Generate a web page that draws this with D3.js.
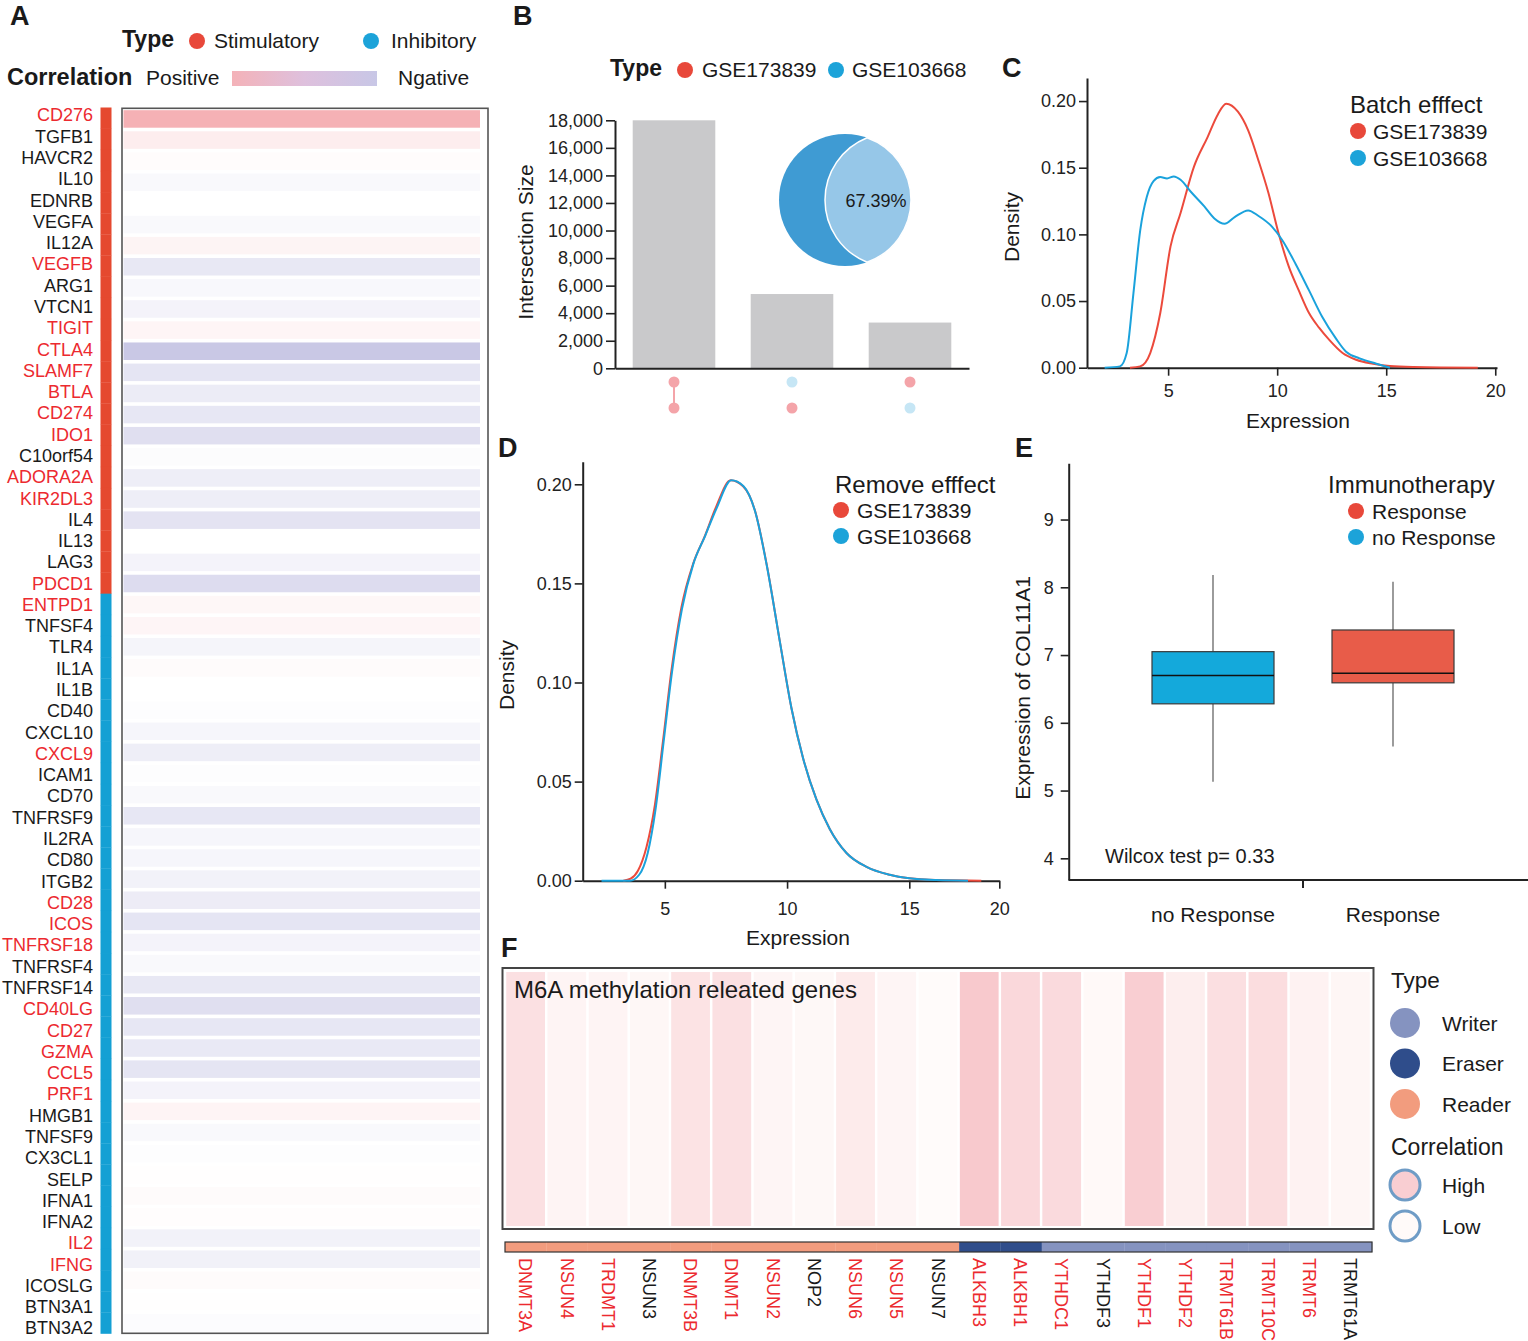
<!DOCTYPE html>
<html>
<head>
<meta charset="utf-8">
<script src="https://cdn.jsdelivr.net/npm/d3@7/dist/d3.min.js"></script>
<style>
  html,body{margin:0;padding:0;background:#fff;}
  svg{display:block;}
  text{font-family:"Liberation Sans",Arial,Helvetica,sans-serif;}
</style>
</head>
<body>
<svg id="fig" width="1528" height="1341"></svg>
<script>
// ================= DATA =================
// Panel A: immune checkpoint genes
const immuneGenes = ["CD276","TGFB1","HAVCR2","IL10","EDNRB","VEGFA","IL12A","VEGFB","ARG1","VTCN1","TIGIT","CTLA4","SLAMF7","BTLA","CD274","IDO1","C10orf54","ADORA2A","KIR2DL3","IL4","IL13","LAG3","PDCD1","ENTPD1","TNFSF4","TLR4","IL1A","IL1B","CD40","CXCL10","CXCL9","ICAM1","CD70","TNFRSF9","IL2RA","CD80","ITGB2","CD28","ICOS","TNFRSF18","TNFRSF4","TNFRSF14","CD40LG","CD27","GZMA","CCL5","PRF1","HMGB1","TNFSF9","CX3CL1","SELP","IFNA1","IFNA2","IL2","IFNG","ICOSLG","BTN3A1","BTN3A2"];
const immuneType = ["Stimulatory","Stimulatory","Stimulatory","Stimulatory","Stimulatory","Stimulatory","Stimulatory","Stimulatory","Stimulatory","Stimulatory","Stimulatory","Stimulatory","Stimulatory","Stimulatory","Stimulatory","Stimulatory","Stimulatory","Stimulatory","Stimulatory","Stimulatory","Stimulatory","Stimulatory","Stimulatory",
  "Inhibitory","Inhibitory","Inhibitory","Inhibitory","Inhibitory","Inhibitory","Inhibitory","Inhibitory","Inhibitory","Inhibitory","Inhibitory","Inhibitory","Inhibitory","Inhibitory","Inhibitory","Inhibitory","Inhibitory","Inhibitory","Inhibitory","Inhibitory","Inhibitory","Inhibitory","Inhibitory","Inhibitory","Inhibitory","Inhibitory","Inhibitory","Inhibitory","Inhibitory","Inhibitory","Inhibitory","Inhibitory","Inhibitory","Inhibitory","Inhibitory"];
const immuneHighlighted = ["CD276","VEGFB","TIGIT","CTLA4","SLAMF7","BTLA","CD274","IDO1","ADORA2A","KIR2DL3","PDCD1","ENTPD1","CXCL9","CD28","ICOS","TNFRSF18","CD40LG","CD27","GZMA","CCL5","PRF1","IL2","IFNG"];
const immuneCorr = [0.95,0.22,0.04,-0.1,0.0,-0.1,0.14,-0.4,-0.12,-0.2,0.12,-0.95,-0.45,-0.33,-0.42,-0.55,-0.06,-0.3,-0.3,-0.48,0.0,-0.2,-0.6,
  0.1,0.12,-0.18,0.05,0.0,-0.03,-0.15,-0.3,-0.03,-0.1,-0.42,-0.15,-0.15,-0.22,-0.32,-0.45,-0.2,-0.1,-0.4,-0.55,-0.42,-0.38,-0.45,-0.2,0.13,-0.1,-0.04,0.01,0.05,0.02,-0.22,-0.25,0.05,0.01,-0.05];

// Panel B: intersection sizes (UpSet)
const upsetSizes = [18000, 5390, 3320];
const upsetSetNames = ["GSE173839","GSE103668"];
const upsetMembership = [[1,1],[0,1],[1,0]];
const upsetTicks = [0,2000,4000,6000,8000,10000,12000,14000,16000,18000];
const overlapLabel = "67.39%";

// Panel C: density before batch removal
const cRedX  = [3.25,3.72,4.18,4.64,5.11,5.57,6.19,6.81,7.28,7.66,8.2,8.67,9.13,9.6,10.06,10.53,10.99,11.46,11.92,12.38,13.0,13.62,14.4,15.17,16.25,19.2];
const cRedY  = [0,0.001,0.011,0.041,0.091,0.116,0.151,0.173,0.19,0.198,0.192,0.178,0.156,0.131,0.101,0.076,0.058,0.041,0.03,0.021,0.011,0.006,0.003,0.0012,0.0005,0];
const cBlueX = [2.09,2.79,3.1,3.41,3.72,4.02,4.33,4.64,4.95,5.26,5.57,6.04,6.66,7.12,7.59,8.05,8.67,9.13,9.75,10.22,10.84,11.46,12.07,12.69,13.16,13.78,14.55,15.17];
const cBlueY = [0,0.001,0.011,0.056,0.103,0.128,0.14,0.143,0.142,0.1435,0.141,0.132,0.121,0.112,0.108,0.113,0.118,0.114,0.106,0.096,0.078,0.058,0.038,0.022,0.012,0.007,0.003,0];
const densityTicksY = [0,0.05,0.1,0.15,0.2];
const expressionTicks = [5,10,15,20];

// Panel D: density after batch removal
const dRedX  = [3.3,3.6,3.9,4.25,4.59,4.93,5.27,5.68,6.16,6.64,7.11,7.69,8.2,8.68,9.16,9.7,10.18,10.65,11.2,11.75,12.43,13.25,14.2,15.0,16.5,19.0];
const dRedY  = [0,0.001,0.005,0.017,0.038,0.071,0.106,0.138,0.16,0.174,0.189,0.202,0.199,0.187,0.16,0.121,0.087,0.062,0.041,0.026,0.014,0.007,0.003,0.0012,0.0003,0];
const dBlueX = [2.41,3.57,3.95,4.3,4.62,4.95,5.29,5.7,6.17,6.65,7.12,7.72,8.22,8.7,9.17,9.7,10.18,10.65,11.2,11.75,12.43,13.25,14.2,15.0,16.5,18.26];
const dBlueY = [0,0,0.003,0.014,0.036,0.07,0.105,0.137,0.16,0.174,0.188,0.202,0.199,0.186,0.159,0.121,0.087,0.062,0.041,0.026,0.014,0.007,0.003,0.0012,0.0003,0];

// Panel E: boxplot of COL11A1
const boxGroups = ["no Response","Response"];
const boxMin    = [5.13, 5.65];
const boxQ1     = [6.28, 6.59];
const boxMedian = [6.70, 6.73];
const boxQ3     = [7.05, 7.37];
const boxMax    = [8.18, 8.08];
const boxTicks  = [4,5,6,7,8,9];
const wilcoxText = "Wilcox test p= 0.33";

// Panel F: m6A genes
const m6aGenes = ["DNMT3A","NSUN4","TRDMT1","NSUN3","DNMT3B","DNMT1","NSUN2","NOP2","NSUN6","NSUN5","NSUN7","ALKBH3","ALKBH1","YTHDC1","YTHDF3","YTHDF1","YTHDF2","TRMT61B","TRMT10C","TRMT6","TRMT61A"];
const m6aType  = ["Reader","Reader","Reader","Reader","Reader","Reader","Reader","Reader","Reader","Reader","Reader","Eraser","Eraser","Writer","Writer","Writer","Writer","Writer","Writer","Writer","Writer"];
const m6aCorr  = [0.27,0.08,0.08,0.05,0.25,0.27,0.07,0.04,0.17,0.07,0.01,0.5,0.35,0.33,0.03,0.45,0.14,0.28,0.3,0.1,0.06];
const m6aHighlighted = ["DNMT3A","NSUN4","TRDMT1","DNMT3B","DNMT1","NSUN2","NSUN6","NSUN5","ALKBH3","ALKBH1","YTHDC1","YTHDF1","YTHDF2","TRMT61B","TRMT10C","TRMT6"];
const m6aTypeLegend = ["Writer","Eraser","Reader"];

// ================= HELPERS =================
const svg = d3.select("#fig");
const FONT = '"Liberation Sans",Arial,Helvetica,sans-serif';
const INK = "#1a1a1a";
const RED = "#e8483a", BLUE = "#1ca3d9", LABRED = "#ec2a2f";

function T(parent, x, y, str, size, opt = {}) {
  const t = parent.append("text").attr("x", x).attr("y", y).text(str)
    .attr("font-size", size).attr("fill", opt.fill || INK);
  if (opt.bold) t.attr("font-weight", "bold");
  if (opt.anchor) t.attr("text-anchor", opt.anchor);
  return t;
}
function TR(parent, x, y, str, size) { // rotated -90, centered
  return parent.append("text").attr("transform", `translate(${x},${y}) rotate(-90)`)
    .attr("text-anchor", "middle").attr("font-size", size).attr("fill", INK).text(str);
}
function styleAxis(g, fs) {
  g.attr("font-family", FONT).attr("font-size", fs);
  g.select(".domain").attr("stroke", "#222").attr("stroke-width", 2);
  g.selectAll(".tick line").attr("stroke", "#222").attr("stroke-width", 1.6);
  g.selectAll(".tick text").attr("fill", "#222");
}
function dot(parent, x, y, r, c) { parent.append("circle").attr("cx", x).attr("cy", y).attr("r", r).attr("fill", c); }

// ================= PANEL A =================
const gA = svg.append("g");
T(gA, 10, 25, "A", 27, {bold: true});
T(gA, 122, 47, "Type", 23, {bold: true});
dot(gA, 197, 41, 8, RED); T(gA, 214, 48, "Stimulatory", 21);
dot(gA, 371, 41, 8, BLUE); T(gA, 391, 48, "Inhibitory", 21);
T(gA, 7, 85, "Correlation", 23.5, {bold: true});
T(gA, 146, 85, "Positive", 21);
const defs = svg.append("defs");
const grad = defs.append("linearGradient").attr("id", "corrGrad");
grad.append("stop").attr("offset", "0%").attr("stop-color", "#f4b2b8");
grad.append("stop").attr("offset", "50%").attr("stop-color", "#dec0dd");
grad.append("stop").attr("offset", "100%").attr("stop-color", "#c8c7e6");
gA.append("rect").attr("x", 232).attr("y", 71).attr("width", 145).attr("height", 15).attr("fill", "url(#corrGrad)");
T(gA, 398, 85, "Ngative", 21);

const corrColor = d3.scaleLinear().domain([-1, 0, 1]).range(["#c6c5e4", "#ffffff", "#f4adb1"]);
const typeColorA = d3.scaleOrdinal().domain(["Stimulatory", "Inhibitory"]).range(["#e5492f", "#14a0d4"]);
const yA = d3.scaleBand().domain(immuneGenes).range([108.5, 1333]).paddingInner(0.17).paddingOuter(0.08);
const yALab = d3.scalePoint().domain(immuneGenes).range([115, 1328]);
const yAType = d3.scaleBand().domain(immuneGenes).range([107.5, 1333.5]);

gA.append("g").selectAll("rect").data(immuneGenes).join("rect")
  .attr("x", 100.5).attr("width", 11).attr("y", d => yAType(d)).attr("height", yAType.bandwidth() + 0.3)
  .attr("fill", (d, i) => typeColorA(immuneType[i]));
gA.append("g").selectAll("rect").data(immuneGenes).join("rect")
  .attr("x", 123.5).attr("width", 356.5).attr("y", d => yA(d)).attr("height", yA.bandwidth())
  .attr("fill", (d, i) => corrColor(immuneCorr[i]));
gA.append("rect").attr("x", 122).attr("y", 108.3).attr("width", 366).attr("height", 1225)
  .attr("fill", "none").attr("stroke", "#555").attr("stroke-width", 1.6);
gA.append("g").selectAll("text").data(immuneGenes).join("text")
  .attr("x", 93).attr("y", d => yALab(d)).attr("dy", "0.36em").attr("text-anchor", "end")
  .attr("font-size", 18).attr("fill", d => immuneHighlighted.includes(d) ? LABRED : INK).text(d => d);

// ================= PANEL B =================
const gB = svg.append("g");
T(gB, 513, 25, "B", 27, {bold: true});
T(gB, 610, 76, "Type", 23, {bold: true});
dot(gB, 685, 70, 8, RED); T(gB, 702, 77, upsetSetNames[0], 21);
dot(gB, 836, 70, 8, BLUE); T(gB, 852, 77, upsetSetNames[1], 21);

const xB = d3.scaleBand().domain(d3.range(upsetSizes.length)).range([615, 969]).paddingInner(0.3).paddingOuter(0.15);
const yB = d3.scaleLinear().domain([0, 18000]).range([368.3, 120.3]);
gB.append("g").selectAll("rect").data(upsetSizes).join("rect")
  .attr("x", (d, i) => xB(i)).attr("width", xB.bandwidth())
  .attr("y", d => yB(d)).attr("height", d => yB(0) - yB(d)).attr("fill", "#c9c9cb");
const axB = gB.append("g").attr("transform", "translate(615,0)")
  .call(d3.axisLeft(yB).tickValues(upsetTicks).tickFormat(d3.format(",")).tickSize(9).tickSizeOuter(0).tickPadding(3));
styleAxis(axB, 18);
const axBx = gB.append("g").attr("transform", `translate(0,${yB(0)})`)
  .call(d3.axisBottom(xB).tickSize(0).tickFormat(""));
styleAxis(axBx, 18);
TR(gB, 533, 242, "Intersection Size", 21);
// membership dots
const ySets = d3.scalePoint().domain(upsetSetNames).range([382, 408]);
upsetMembership.forEach((m, i) => {
  const cx = xB(i) + xB.bandwidth() / 2;
  const on = upsetSetNames.filter((s, k) => m[k]);
  if (on.length > 1) gB.append("line").attr("x1", cx).attr("x2", cx)
    .attr("y1", ySets(on[0])).attr("y2", ySets(on[on.length - 1])).attr("stroke", "#f4a4a9").attr("stroke-width", 2);
  upsetSetNames.forEach((s, k) => dot(gB, cx, ySets(s), 5.5, m[k] ? "#f4a4a9" : "#c6e6f5"));
});
// overlap crescent
(function () {
  const cx = 845, cy = 200, r1 = 66, r2 = 67, d = 47;
  gB.append("circle").attr("cx", cx).attr("cy", cy).attr("r", r1).attr("fill", "#3f9bd3");
  const xi = (d * d + r1 * r1 - r2 * r2) / (2 * d);
  const yi = Math.sqrt(r1 * r1 - xi * xi);
  const p = d3.path();
  p.moveTo(cx + xi, cy - yi);
  p.arc(cx, cy, r1, Math.atan2(-yi, xi), Math.atan2(yi, xi), false);
  p.arc(cx + d, cy, r2, Math.atan2(yi, xi - d), Math.atan2(-yi, xi - d), false);
  p.closePath();
  gB.append("path").attr("d", p.toString()).attr("fill", "#96c7e8").attr("stroke", "#fff").attr("stroke-width", 1.5);
  T(gB, 876, 207, overlapLabel, 18, {anchor: "middle"});
})();

// ================= PANEL C =================
const gC = svg.append("g");
T(gC, 1002, 77, "C", 27, {bold: true});
const xC = d3.scaleLinear().domain([1.28, 20.08]).range([1087, 1497]);
const yC = d3.scaleLinear().domain([0, 0.2173]).range([367.7, 78]);
const axCx = gC.append("g").attr("transform", `translate(0,${yC(0)})`)
  .call(d3.axisBottom(xC).tickValues(expressionTicks).tickSize(8).tickSizeOuter(0).tickPadding(9));
styleAxis(axCx, 18);
const axCy = gC.append("g").attr("transform", `translate(${xC.range()[0]},0)`)
  .call(d3.axisLeft(yC).tickValues(densityTicksY).tickFormat(d3.format(".2f")).tickSize(8).tickSizeOuter(0).tickPadding(3));
styleAxis(axCy, 18);
const lineC = d3.line().x(d => xC(d[0])).y(d => yC(d[1])).curve(d3.curveMonotoneX);
gC.append("path").attr("d", lineC(d3.zip(cRedX, cRedY))).attr("fill", "none").attr("stroke", "#ec4a3c").attr("stroke-width", 2);
gC.append("path").attr("d", lineC(d3.zip(cBlueX, cBlueY))).attr("fill", "none").attr("stroke", "#1aa2dc").attr("stroke-width", 2);
T(gC, 1298, 428, "Expression", 21, {anchor: "middle"});
TR(gC, 1019, 227, "Density", 21);
T(gC, 1350, 113, "Batch efffect", 24);
dot(gC, 1358, 131, 8, RED); T(gC, 1373, 138.5, upsetSetNames[0], 21);
dot(gC, 1358, 158, 8, BLUE); T(gC, 1373, 165.5, upsetSetNames[1], 21);

// ================= PANEL D =================
const gD = svg.append("g");
T(gD, 498, 457, "D", 27, {bold: true});
const xD = d3.scaleLinear().domain([1.64, 15, 20]).range([582.7, 909.3, 999.3]);
const yD = d3.scaleLinear().domain([0, 0.2114]).range([880.7, 461.7]);
const axDx = gD.append("g").attr("transform", `translate(0,${yD(0)})`)
  .call(d3.axisBottom(xD).tickValues(expressionTicks).tickSize(8).tickSizeOuter(0).tickPadding(14));
styleAxis(axDx, 18);
const axDy = gD.append("g").attr("transform", `translate(${xD(1.64)},0)`)
  .call(d3.axisLeft(yD).tickValues(densityTicksY).tickFormat(d3.format(".2f")).tickSize(8).tickSizeOuter(0).tickPadding(3));
styleAxis(axDy, 18);
const lineD = d3.line().x(d => xD(d[0])).y(d => yD(d[1])).curve(d3.curveMonotoneX);
gD.append("path").attr("d", lineD(d3.zip(dRedX, dRedY))).attr("fill", "none").attr("stroke", "#ec4a3c").attr("stroke-width", 2);
gD.append("path").attr("d", lineD(d3.zip(dBlueX, dBlueY))).attr("fill", "none").attr("stroke", "#1aa2dc").attr("stroke-width", 2);
T(gD, 798, 945, "Expression", 21, {anchor: "middle"});
TR(gD, 514, 675, "Density", 21);
T(gD, 835, 493, "Remove efffect", 24);
dot(gD, 841, 510, 8, RED); T(gD, 857, 517.5, upsetSetNames[0], 21);
dot(gD, 841, 536, 8, BLUE); T(gD, 857, 543.5, upsetSetNames[1], 21);

// ================= PANEL E =================
const gE = svg.append("g");
T(gE, 1015, 457, "E", 27, {bold: true});
const yE = d3.scaleLinear().domain([3.68, 9.83]).range([880, 463.3]);
const xE = d3.scalePoint().domain(boxGroups).range([1213, 1393]);
const boxFill = d3.scaleOrdinal().domain(boxGroups).range(["#14a9db", "#e85c49"]);
const axEy = gE.append("g").attr("transform", "translate(1068.7,0)")
  .call(d3.axisLeft(yE).tickValues(boxTicks).tickFormat(d3.format("d")).tickSize(8).tickSizeOuter(0).tickPadding(7));
styleAxis(axEy, 18);
gE.append("line").attr("x1", 1068.7).attr("x2", 1528).attr("y1", 880).attr("y2", 880).attr("stroke", "#222").attr("stroke-width", 2);
const midE = (xE(boxGroups[0]) + xE(boxGroups[1])) / 2;
gE.append("line").attr("x1", midE).attr("x2", midE).attr("y1", 880).attr("y2", 888).attr("stroke", "#222").attr("stroke-width", 2);
boxGroups.forEach((g, i) => {
  const cx = xE(g), w = 122;
  gE.append("line").attr("x1", cx).attr("x2", cx).attr("y1", yE(boxMax[i])).attr("y2", yE(boxQ3[i])).attr("stroke", "#666").attr("stroke-width", 1.3);
  gE.append("line").attr("x1", cx).attr("x2", cx).attr("y1", yE(boxQ1[i])).attr("y2", yE(boxMin[i])).attr("stroke", "#666").attr("stroke-width", 1.3);
  gE.append("rect").attr("x", cx - w / 2).attr("width", w).attr("y", yE(boxQ3[i])).attr("height", yE(boxQ1[i]) - yE(boxQ3[i]))
    .attr("fill", boxFill(g)).attr("stroke", "#3a3a3a").attr("stroke-width", 1.2);
  gE.append("line").attr("x1", cx - w / 2).attr("x2", cx + w / 2).attr("y1", yE(boxMedian[i])).attr("y2", yE(boxMedian[i])).attr("stroke", "#111").attr("stroke-width", 1.5);
  T(gE, cx, 922, g, 21, {anchor: "middle"});
});
TR(gE, 1030, 688, "Expression of COL11A1", 21);
T(gE, 1105, 863, wilcoxText, 20);
T(gE, 1328, 493, "Immunotherapy", 24);
dot(gE, 1356, 511, 8, RED); T(gE, 1372, 518.5, "Response", 21);
dot(gE, 1356, 537, 8, BLUE); T(gE, 1372, 544.5, "no Response", 21);

// ================= PANEL F =================
const gF = svg.append("g");
T(gF, 501, 957, "F", 27, {bold: true});
const xF = d3.scaleBand().domain(m6aGenes).range([505, 1371]).paddingInner(0.06).paddingOuter(0.03);
const xFType = d3.scaleBand().domain(m6aGenes).range([505, 1372]);
const m6aColor = d3.scaleLinear().domain([0, 0.5]).range(["#fffcfb", "#f8c9cd"]);
const typeColorF = d3.scaleOrdinal().domain(m6aTypeLegend).range(["#8593c0", "#2f4d8b", "#f29c7e"]);
gF.append("g").selectAll("rect").data(m6aGenes).join("rect")
  .attr("x", d => xF(d)).attr("width", xF.bandwidth()).attr("y", 972).attr("height", 254)
  .attr("fill", (d, i) => m6aColor(m6aCorr[i]));
gF.append("rect").attr("x", 502.5).attr("y", 968).attr("width", 871).attr("height", 261)
  .attr("fill", "none").attr("stroke", "#444").attr("stroke-width", 2);
T(gF, 514, 998, "M6A methylation releated genes", 24);
gF.append("g").selectAll("rect").data(m6aGenes).join("rect")
  .attr("x", d => xFType(d)).attr("width", xFType.bandwidth() + 0.3).attr("y", 1242).attr("height", 10)
  .attr("fill", (d, i) => typeColorF(m6aType[i]));
gF.append("rect").attr("x", 505).attr("y", 1242).attr("width", 867).attr("height", 10)
  .attr("fill", "none").attr("stroke", "#333").attr("stroke-width", 1.2);
gF.append("g").selectAll("text").data(m6aGenes).join("text")
  .attr("transform", d => `translate(${xF(d) + xF.bandwidth() / 2},1258) rotate(90)`)
  .attr("dy", "0.35em").attr("font-size", 18)
  .attr("fill", d => m6aHighlighted.includes(d) ? LABRED : INK).text(d => d);
// legend
T(gF, 1391, 988, "Type", 22.5);
const yLegF = d3.scalePoint().domain(m6aTypeLegend).range([1023, 1104]);
m6aTypeLegend.forEach(t => {
  dot(gF, 1405, yLegF(t), 15, typeColorF(t));
  T(gF, 1442, yLegF(t) + 7.5, t, 21);
});
T(gF, 1391, 1155, "Correlation", 23);
const corrLegend = [["High", m6aColor(0.45)], ["Low", m6aColor(0.02)]];
const yLegC = d3.scalePoint().domain(corrLegend.map(d => d[0])).range([1185, 1226]);
corrLegend.forEach(([lab, c]) => {
  gF.append("circle").attr("cx", 1405).attr("cy", yLegC(lab)).attr("r", 15).attr("fill", c)
    .attr("stroke", "#6f9cc6").attr("stroke-width", 3);
  T(gF, 1442, yLegC(lab) + 7.5, lab, 21);
});
</script>
</body>
</html>
